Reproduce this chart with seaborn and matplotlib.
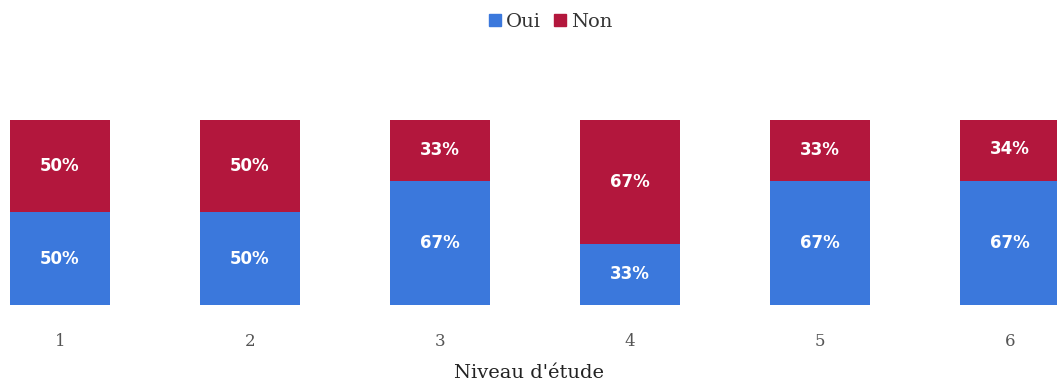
import matplotlib
matplotlib.use("Agg")
import matplotlib.pyplot as plt
import seaborn as sns
import pandas as pd
from matplotlib.lines import Line2D

# Niveau d'étude categories and the share answering Oui / Non (%)
niveaux = ["1", "2", "3", "4", "5", "6"]
oui = [50, 50, 67, 33, 67, 67]
non = [50, 50, 33, 67, 33, 34]

BLUE = "#3b78dc"
RED = "#b3173d"

sns.set_theme(style="white")
plt.rcParams["font.family"] = ["DejaVu Serif"]

df = pd.DataFrame({"niveau": niveaux, "oui": oui, "non": non})
df["total"] = df["oui"] + df["non"]

fig = plt.figure(figsize=(10.57, 3.83), dpi=100)
ax = fig.add_axes([0.0, 0.204, 1.0, 0.483])

# stacked bars: full total in red, Oui part drawn over it in blue
sns.barplot(data=df, x="niveau", y="total", color=RED, saturation=1,
            width=0.53, linewidth=0, edgecolor="none", ax=ax)
sns.barplot(data=df, x="niveau", y="oui", color=BLUE, saturation=1,
            width=0.53, linewidth=0, edgecolor="none", ax=ax)

for i, (o, n) in enumerate(zip(oui, non)):
    ax.text(i, o / 2, f"{o}%", ha="center", va="center", color="white",
            fontsize=12, fontweight="bold", family="DejaVu Sans")
    ax.text(i, o + n / 2, f"{n}%", ha="center", va="center", color="white",
            fontsize=12, fontweight="bold", family="DejaVu Sans")

ax.set_xlim(-0.316, 5.247)
ax.set_ylim(0, 100)
ax.set_yticks([])
ax.set_ylabel("")
ax.set_xlabel("Niveau d'étude", fontsize=14, color="#222222", labelpad=10)
ax.tick_params(axis="x", length=0, labelsize=12, labelcolor="#555555", pad=20)
sns.despine(ax=ax, left=True, bottom=True)

handles = [
    Line2D([], [], marker="s", linestyle="", color=BLUE, markersize=8, label="Oui"),
    Line2D([], [], marker="s", linestyle="", color=RED, markersize=8, label="Non"),
]
fig.legend(handles=handles, loc="upper center", bbox_to_anchor=(0.518, 1.012),
           ncol=2, frameon=False, fontsize=14, handletextpad=-0.05,
           handlelength=1.2, columnspacing=0.4, labelcolor="#333333")

fig.savefig("out.png", dpi=100, facecolor="white")
